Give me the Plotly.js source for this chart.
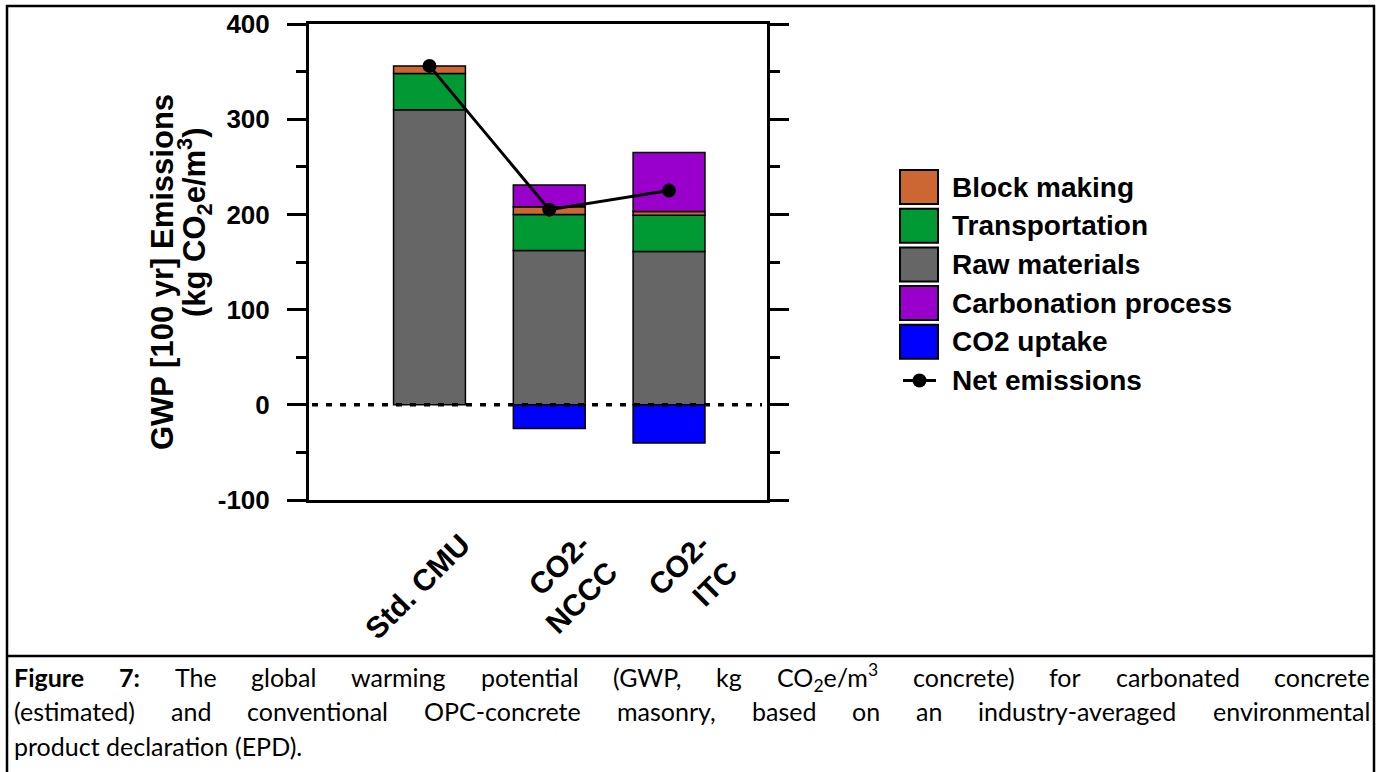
<!DOCTYPE html>
<html>
<head>
<meta charset="utf-8">
<script src="https://cdn.plot.ly/plotly-3.0.1.min.js"></script>
<style>
  html, body { margin: 0; padding: 0; background: #fff; }
  #chart { width: 1380px; height: 772px; }
</style>
</head>
<body>
<div id="chart"></div>
<script>
// ---------------- DATA ----------------
const categories = ["Std. CMU", "CO2-<br>NCCC", "CO2-<br>ITC"];
const rawMaterials   = [310, 162, 161];
const transportation = [38, 38, 38];
const blockMaking    = [8, 8, 4];
const carbonation    = [null, 23, 62];
const co2Uptake      = [null, -25, -40];
const netEmissions   = [356, 205, 225];
const yTickVals = [-100, 0, 100, 200, 300, 400];

const seriesNames  = ["Block making", "Transportation", "Raw materials", "Carbonation process", "CO2 uptake"];
const seriesColors = ["#CC6633", "#009933", "#666666", "#9900CC", "#0000FF"];

const captionLines = [
  ["<b>Figure</b>", "<b>7:</b>", "The", "global", "warming", "potential", "(GWP,", "kg", "CO<sub>2</sub>e/m<sup>3</sup>", "concrete)", "for", "carbonated", "concrete"],
  ["(estimated)", "and", "conventional", "OPC-concrete", "masonry,", "based", "on", "an", "industry-averaged", "environmental"],
  ["product", "declaration", "(EPD)."]
];

// ---------------- LAYOUT HELPERS ----------------
const W = 1380, H = 772;
const M = { l: 309, r: 613, t: 24, b: 272 };
const PW = W - M.l - M.r, PH = H - M.t - M.b;
const px = v => (v - M.l) / PW;
const py = v => (H - M.b - v) / PH;

const chartFont = "Liberation Sans, Arial, sans-serif";
const capFont = "Lato, 'Open Sans', sans-serif";
const capSize = 25;

const colorOf = name => seriesColors[seriesNames.indexOf(name)];
const barLine = { color: "#000", width: 1.5 };

function bar(name, y) {
  return { type: "bar", name: name, x: categories, y: y, width: 0.6,
           marker: { color: colorOf(name), line: barLine }, showlegend: false };
}

const traces = [
  bar("Raw materials", rawMaterials),
  bar("Transportation", transportation),
  bar("Block making", blockMaking),
  bar("Carbonation process", carbonation),
  bar("CO2 uptake", co2Uptake),
  { type: "scatter", mode: "lines+markers", name: "Net emissions", x: categories, y: netEmissions,
    line: { color: "#000", width: 3 }, marker: { color: "#000", size: 14 }, showlegend: false }
];

const shapes = [];
const annotations = [];

// zero dotted line
shapes.push({ type: "line", xref: "paper", yref: "y", x0: px(312), x1: px(762), y0: 0, y1: 0,
              line: { color: "#000", width: 3.5, dash: "6px,8px" }, layer: "above" });

// frame around figure + caption separator
const frameLine = { color: "#000", width: 2.5 };
shapes.push({ type: "line", xref: "paper", yref: "paper", x0: px(7), x1: px(7), y0: py(5), y1: py(772), line: frameLine });
shapes.push({ type: "line", xref: "paper", yref: "paper", x0: px(1374), x1: px(1374), y0: py(5), y1: py(772), line: frameLine });
shapes.push({ type: "line", xref: "paper", yref: "paper", x0: px(6), x1: px(1375), y0: py(6), y1: py(6), line: frameLine });
shapes.push({ type: "line", xref: "paper", yref: "paper", x0: px(6), x1: px(1375), y0: py(656), y1: py(656), line: frameLine });

// manual legend
const legX = 900, legTextX = 950, legY0 = 187, legDY = 38.7, legFont = 28;
seriesNames.forEach((n, i) => {
  const cy = legY0 + i * legDY;
  shapes.push({ type: "rect", xref: "paper", yref: "paper",
    x0: px(legX), x1: px(legX + 38), y0: py(cy - 17), y1: py(cy + 17),
    fillcolor: seriesColors[i], line: { color: "#000", width: 2 } });
  annotations.push({ xref: "paper", yref: "paper", x: px(legTextX), y: py(cy), xanchor: "left", yanchor: "middle",
    text: "<b>" + n + "</b>", showarrow: false, font: { family: chartFont, size: legFont, color: "#000" } });
});
{
  const cy = legY0 + 5 * legDY;
  shapes.push({ type: "line", xref: "paper", yref: "paper", x0: px(903), x1: px(936), y0: py(cy), y1: py(cy),
                line: { color: "#000", width: 3 } });
  shapes.push({ type: "circle", xref: "paper", yref: "paper", x0: px(912.5), x1: px(926.5), y0: py(cy - 7), y1: py(cy + 7),
                fillcolor: "#000", line: { color: "#000", width: 0 } });
  annotations.push({ xref: "paper", yref: "paper", x: px(legTextX), y: py(cy), xanchor: "left", yanchor: "middle",
    text: "<b>Net emissions</b>", showarrow: false, font: { family: chartFont, size: legFont, color: "#000" } });
}

// y-axis title (two lines)
annotations.push({ xref: "paper", yref: "paper", x: px(162), y: py(272), xanchor: "center", yanchor: "middle",
  textangle: -90, showarrow: false, text: "<b>GWP [100 yr] Emissions</b>",
  font: { family: chartFont, size: 31, color: "#000", weight: "bold" } });
annotations.push({ xref: "paper", yref: "paper", x: px(195), y: py(222), xanchor: "center", yanchor: "middle",
  textangle: -90, showarrow: false, text: "<b>(kg CO<sub>2</sub>e/m<sup>3</sup>)</b>",
  font: { family: chartFont, size: 31, color: "#000", weight: "bold" } });

// caption, justified
const cv = document.createElement("canvas").getContext("2d");
function measure(html) {
  const bold = html.indexOf("<b>") >= 0;
  const parts = html.replace(/<\/?b>/g, "").split(/(<su[bp]>.*?<\/su[bp]>)/);
  let w = 0;
  parts.forEach(p => {
    if (!p) return;
    const small = /^<su[bp]>/.test(p);
    const t = p.replace(/<[^>]+>/g, "");
    cv.font = (bold ? "bold " : "") + (small ? capSize * 0.7 : capSize) + "px Lato";
    w += cv.measureText(t).width;
  });
  return w;
}
const capX0 = 12, capX1 = 1368, capYs = [677, 711, 746];
captionLines.forEach((words, li) => {
  const widths = words.map(measure);
  const total = widths.reduce((a, b) => a + b, 0);
  const justify = li < captionLines.length - 1;
  const gap = justify ? (capX1 - capX0 - total) / (words.length - 1) : measure(" ");
  let x = capX0;
  words.forEach((w, i) => {
    annotations.push({ xref: "paper", yref: "paper", x: px(x), y: py(capYs[li]), xanchor: "left", yanchor: "middle",
      text: w, showarrow: false, font: { family: capFont, size: capSize, color: "#000" } });
    x += widths[i] + gap;
  });
});

const layout = {
  width: W, height: H,
  margin: M,
  paper_bgcolor: "#fff", plot_bgcolor: "#fff",
  barmode: "relative",
  showlegend: false,
  font: { family: chartFont, color: "#000" },
  xaxis: {
    type: "category", range: [-1.006, 2.818],
    showline: true, linecolor: "#000", linewidth: 3, mirror: true,
    ticks: "", showgrid: false, zeroline: false,
    tickangle: -45, ticklabelstandoff: 12, ticklabelshift: 32,
    tickfont: { family: chartFont, size: 30, color: "#000", weight: "bold" }
  },
  yaxis: {
    range: [-100, 400], tickvals: yTickVals, ticktext: yTickVals.map(String),
    showline: true, linecolor: "#000", linewidth: 3, mirror: "allticks",
    ticks: "outside", ticklen: 19, tickwidth: 3, tickcolor: "#000",
    minor: { dtick: 50, ticks: "outside", ticklen: 10, tickwidth: 3, tickcolor: "#000" },
    showgrid: false, zeroline: false, ticklabelstandoff: 12,
    tickfont: { family: chartFont, size: 26, color: "#000", weight: "bold" }
  },
  shapes: shapes,
  annotations: annotations
};

Plotly.newPlot("chart", traces, layout, { staticPlot: true, displayModeBar: false });
</script>
</body>
</html>
